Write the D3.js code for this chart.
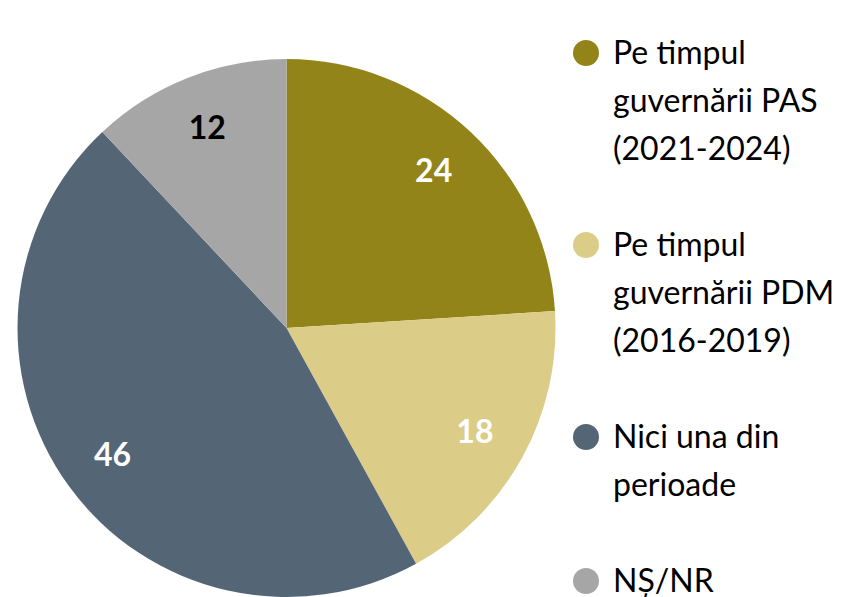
<!DOCTYPE html>
<html>
<head>
<meta charset="utf-8">
<script src="https://cdn.jsdelivr.net/npm/d3@7"></script>
<style>
	body { margin: 0; background: #fff; }
	svg { display: block; }
</style>
</head>
<body>
<div id="chart"></div>
<script>
// data
var categories = [
	['Pe timpul', 'guvernării PAS', '(2021-2024)'],
	['Pe timpul', 'guvernării PDM', '(2016-2019)'],
	['Nici una din', 'perioade'],
	['NȘ/NR']
];
var values = [24, 18, 46, 12];
var colors = ['#938419', '#dbcd88', '#546576', '#a6a6a6'];
var labelColors = ['#ffffff', '#ffffff', '#ffffff', '#000000'];

var width = 851,
	height = 597;
var cx = 286.5,
	cy = 328,
	radius = 269;
var fontFamily = 'Lato, "Open Sans", sans-serif';

var svg = d3
	.select('#chart')
	.append('svg')
	.attr('width', width)
	.attr('height', height);

var pie = d3.pie()
	.sort(null)
	.value(function (d) { return d; });

var arc = d3.arc().innerRadius(0).outerRadius(radius);
var labelArc = d3.arc().innerRadius(215).outerRadius(215);

var chart = svg.append('g')
	.attr('transform', 'translate(' + cx + ', ' + cy + ')');

var slices = chart.selectAll('g.slice')
	.data(pie(values))
	.enter()
	.append('g')
	.attr('class', 'slice');

slices.append('path')
	.attr('d', arc)
	.attr('fill', function (d, i) { return colors[i]; });

slices.append('text')
	.attr('transform', function (d) { return 'translate(' + labelArc.centroid(d) + ')'; })
	.attr('dy', '0.35em')
	.attr('text-anchor', 'middle')
	.attr('font-family', fontFamily)
	.attr('font-weight', 'bold')
	.attr('font-size', '32px')
	.attr('fill', function (d, i) { return labelColors[i]; })
	.text(function (d) { return d.data; });

// Legend
var lineH = 48;
var legend = svg.append('g')
	.attr('transform', 'translate(586, 53)');

var offset = 0;
categories.forEach(function (lines, i) {
	var item = legend.append('g')
		.attr('transform', 'translate(0, ' + offset + ')');
	item.append('circle')
		.attr('r', 13)
		.attr('fill', colors[i]);
	var txt = item.append('text')
		.attr('x', 27)
		.attr('y', 11)
		.attr('font-family', fontFamily)
		.attr('font-size', '32px')
		.attr('fill', '#000');
	lines.forEach(function (l, j) {
		txt.append('tspan')
			.attr('x', 27)
			.attr('dy', j === 0 ? 0 : lineH)
			.text(l);
	});
	offset += (lines.length + 1) * lineH;
});
</script>
</body>
</html>
